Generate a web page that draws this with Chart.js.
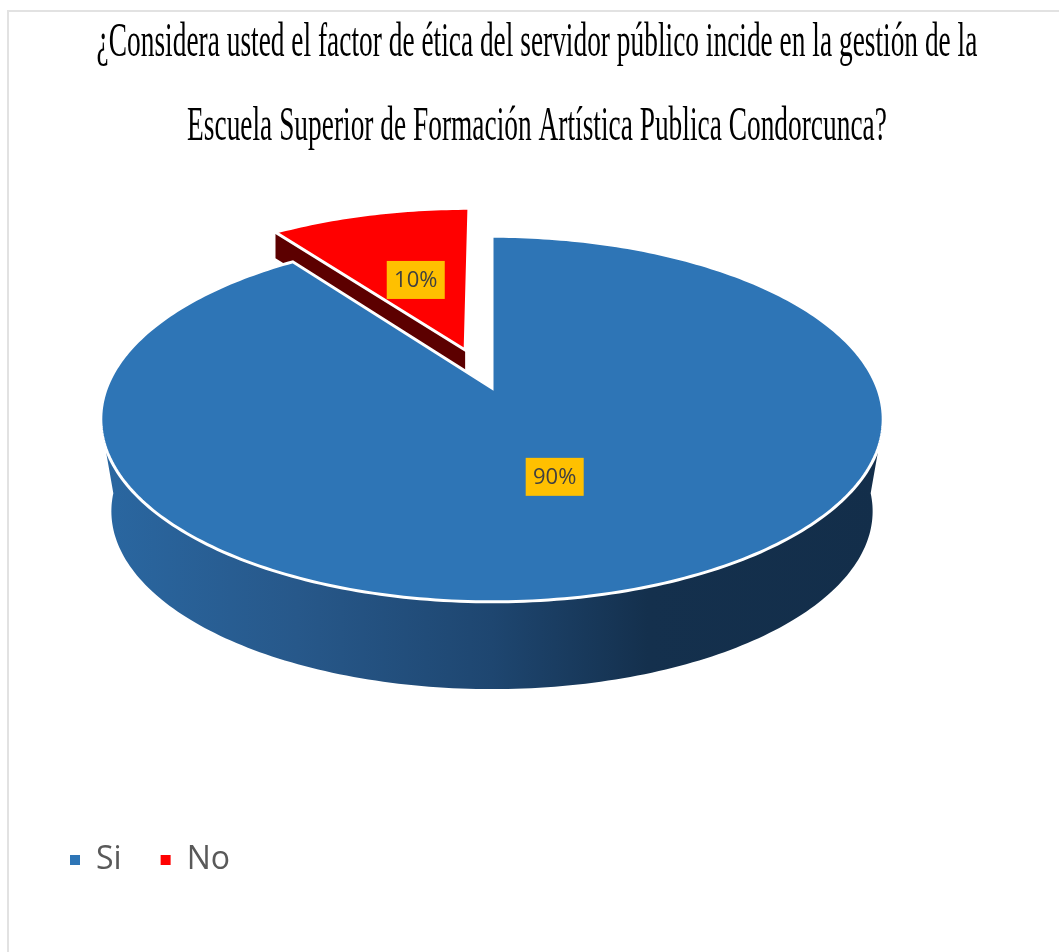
<!DOCTYPE html>
<html lang="es">
<head>
<meta charset="utf-8">
<title>Ética del servidor público</title>
<script src="https://cdn.jsdelivr.net/npm/chart.js@4"></script>
<style>
  html, body { margin: 0; padding: 0; background: #fff; overflow: hidden; }
  #grafica { position: absolute; left: 0; top: 0; }
  #marco {
    position: absolute; left: 7px; top: 10px; right: 0; bottom: 0;
    border-left: 2px solid #e2e2e2; border-top: 2px solid #e2e2e2;
    pointer-events: none;
  }
</style>
</head>
<body>
<canvas id="grafica" width="1059" height="952"></canvas>
<div id="marco"></div>
<script>
const categorias = ["Si", "No"];
const valores = [90, 10];
const colores = ["#2e75b6", "#ff0000"];
const titulo = [
  "¿Considera usted el factor de ética del servidor público incide en la gestión de la",
  "Escuela Superior de Formación Artística Publica Condorcunca?",
];

// separacion de cada porcion respecto al centro, en fraccion del radio
const separacion = [0, 0.234];
// distancia de cada etiqueta de porcentaje, en fraccion del radio
const radioEtiqueta = [0.485, 0.48];

// proyeccion en perspectiva del disco
const RADIO_X = 385.5;
const RADIO_Y = 177.5;
const FUGA = 0.17;
const CENTRO_Y = 388;
const GROSOR = 93;
const ESCALA_BASE = 0.973;
const GROSOR_ROJO = 26;

const TITULO_X = 537;
const TITULO_ESCALA = 0.559;

//funcion pasa un punto del disco (radio 1) a pixeles
function proyectar(el, u, v, bajar = 0, escala = 1) {
  const w = 1 - FUGA * v;
  return [
    el.x + (RADIO_X * escala * u) / w,
    CENTRO_Y + bajar + (RADIO_Y * escala * v) / w,
  ];
}

//funcion genera el contorno exterior entre dos angulos
function borde(el, desde, hasta, sep, mitad, bajar = 0, escala = 1) {
  const puntos = [];
  const du = Math.cos(mitad) * sep;
  const dv = Math.sin(mitad) * sep;
  const pasos = Math.max(2, Math.ceil((Math.abs(hasta - desde) * 180) / Math.PI));
  for (let i = 0; i <= pasos; i++) {
    const a = desde + ((hasta - desde) * i) / pasos;
    puntos.push(proyectar(el, du + Math.cos(a), dv + Math.sin(a), bajar, escala));
  }
  return puntos;
}

function trazar(ctx, puntos) {
  ctx.beginPath();
  puntos.forEach((p, i) => (i ? ctx.lineTo(p[0], p[1]) : ctx.moveTo(p[0], p[1])));
  ctx.closePath();
}

function porcion(ctx, el, sep, color) {
  const mitad = (el.startAngle + el.endAngle) / 2;
  const du = Math.cos(mitad) * sep;
  const dv = Math.sin(mitad) * sep;
  const puntos = [proyectar(el, du, dv)].concat(
    borde(el, el.startAngle, el.endAngle, sep, mitad)
  );
  trazar(ctx, puntos);
  ctx.fillStyle = color;
  ctx.fill();
  ctx.strokeStyle = "#fff";
  ctx.lineWidth = 3;
  ctx.lineJoin = "miter";
  ctx.stroke();
}

//pared frontal de la porcion azul con su degradado
function paredAzul(ctx, el) {
  const grad = ctx.createLinearGradient(el.x - 390, 0, el.x + 390, 0);
  grad.addColorStop(0, "#2a67a1");
  grad.addColorStop(0.25, "#27588a");
  grad.addColorStop(0.5, "#1e4670");
  grad.addColorStop(0.7, "#14304d");
  grad.addColorStop(1, "#132e4a");
  const rad = Math.PI / 180;
  const arriba = borde(el, 18 * rad, 162 * rad, 0, 0);
  const abajo = borde(el, 176 * rad, 4 * rad, 0, 0, GROSOR, ESCALA_BASE);
  trazar(ctx, arriba.concat(abajo));
  ctx.fillStyle = grad;
  ctx.fill();
}

//pared oscura del lado recto de la porcion separada
function paredRoja(ctx, el, sep) {
  const mitad = (el.startAngle + el.endAngle) / 2;
  const du = Math.cos(mitad) * sep;
  const dv = Math.sin(mitad) * sep;
  const a = proyectar(el, du, dv);
  const b = proyectar(el, du + Math.cos(el.startAngle), dv + Math.sin(el.startAngle));
  trazar(ctx, [a, b, [b[0], b[1] + GROSOR_ROJO], [a[0], a[1] + GROSOR_ROJO]]);
  ctx.fillStyle = "#5c0000";
  ctx.fill();
}

function etiqueta(ctx, el, sep, radio, texto) {
  const mitad = (el.startAngle + el.endAngle) / 2;
  const r = sep + radio;
  const [x, y] = proyectar(el, Math.cos(mitad) * r, Math.sin(mitad) * r);
  ctx.fillStyle = "#ffc000";
  ctx.fillRect(x - 29, y - 19, 58, 38);
  ctx.fillStyle = "#404040";
  ctx.font = '22px "Open Sans"';
  ctx.textAlign = "center";
  ctx.textBaseline = "middle";
  ctx.fillText(texto, x, y + 1);
}

//plugin dibuja el pastel en 3D a partir de los arcos que calcula Chart.js
const pastel3D = {
  id: "pastel3D",
  beforeDatasetDraw(chart) {
    const ctx = chart.ctx;
    const arcos = chart.getDatasetMeta(0).data;
    ctx.save();
    paredRoja(ctx, arcos[1], separacion[1]);
    porcion(ctx, arcos[1], separacion[1], colores[1]);
    paredAzul(ctx, arcos[0]);
    porcion(ctx, arcos[0], separacion[0], colores[0]);
    arcos.forEach((el, i) => etiqueta(ctx, el, separacion[i], radioEtiqueta[i], `${valores[i]}%`));
    ctx.restore();
    return false;
  },
};

//plugin angosta el titulo, la fuente no trae version condensada
const tituloAngosto = {
  id: "tituloAngosto",
  afterLayout(chart) {
    const t = chart.titleBlock;
    if (t.angosto) return;
    t.angosto = true;
    const dibujar = t.draw.bind(t);
    t.draw = () => {
      const { left, right } = t;
      const ctx = chart.ctx;
      t.left = TITULO_X - 1000;
      t.right = TITULO_X + 1000;
      ctx.save();
      ctx.translate(TITULO_X, 0);
      ctx.scale(TITULO_ESCALA, 1);
      ctx.translate(-TITULO_X, 0);
      dibujar();
      ctx.restore();
      t.left = left;
      t.right = right;
    };
  },
};

const config = {
  type: "pie",
  data: {
    labels: categorias,
    datasets: [{ data: valores, backgroundColor: colores, borderWidth: 0 }],
  },
  plugins: [pastel3D, tituloAngosto],
  options: {
    responsive: false,
    animation: false,
    layout: { padding: { left: 31, right: 106, top: 1, bottom: 66 } },
    plugins: {
      tooltip: { enabled: false },
      title: {
        display: true,
        text: titulo,
        color: "#000",
        font: { family: '"Liberation Serif"', size: 49, weight: "normal", lineHeight: 1.72 },
        padding: { top: 0, bottom: 10 },
      },
      legend: {
        position: "bottom",
        align: "start",
        labels: {
          boxWidth: 10,
          boxHeight: 10,
          padding: 39,
          color: "#595959",
          font: { family: '"Open Sans"', size: 32 },
        },
      },
    },
  },
};

new Chart(document.getElementById("grafica"), config);
</script>
</body>
</html>
